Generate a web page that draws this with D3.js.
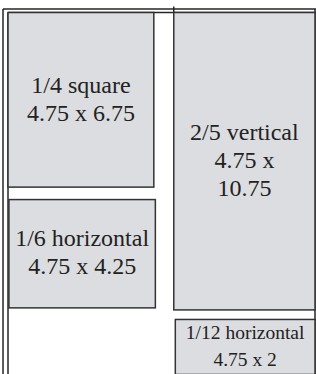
<!DOCTYPE html>
<html>
<head>
<meta charset="utf-8">
<script src="https://cdn.jsdelivr.net/npm/d3@7"></script>
<style>
  html, body { margin: 0; padding: 0; background: #fff; }
  svg { display: block; }
</style>
</head>
<body>
<svg id="layout" width="316" height="374"></svg>
<script>
(function () {
    'use strict';

    // ad sizes on the page
    const adNames = ["1/4 square", "2/5 vertical", "1/6 horizontal", "1/12 horizontal"];
    const adSizes = [["4.75 x 6.75"], ["4.75 x", "10.75"], ["4.75 x 4.25"], ["4.75 x 2"]];
    // extents in page units (columns across, rows down)
    const adLeft = [0, 5.4, 0.03, 5.45];
    const adRight = [4.75, 10, 4.8, 10];
    const adTop = [0, 0, 6.46, 10.6];
    const adBottom = [6.03, 10.27, 10.2, 12.5];
    const adLarge = [true, true, true, false];

    const width = 316;
    const height = 374;

    const x = d3.scaleLinear().domain([0, 10]).range([8, 315]);
    const y = d3.scaleLinear().domain([0, 12]).range([12.5, 360]);

    const ads = adNames.map((name, i) => ({
        name: name,
        lines: [name].concat(adSizes[i]),
        x0: adLeft[i], x1: adRight[i], y0: adTop[i], y1: adBottom[i],
        large: adLarge[i]
    }));

    const svg = d3.select('#layout');

    // page frame
    const frame = svg.append("g")
            .attr("stroke", "#262626")
            .attr("stroke-width", 1.5)
            .attr("fill", "none");
    frame.append("line").attr("x1", 3).attr("x2", 3).attr("y1", 9).attr("y2", height);
    frame.append("line").attr("x1", x(0)).attr("x2", x(0)).attr("y1", y(0)).attr("y2", height);
    frame.append("line").attr("x1", 3).attr("x2", width).attr("y1", 9).attr("y2", 9);
    frame.append("line").attr("x1", x(0)).attr("x2", width).attr("y1", y(0)).attr("y2", y(0));
    frame.append("line").attr("x1", x(10)).attr("x2", x(10)).attr("y1", 9).attr("y2", height);
    frame.append("line").attr("x1", x(5.4)).attr("x2", x(5.4)).attr("y1", 6.5).attr("y2", y(0));

    const boxes = svg.append("g")
            .selectAll("g")
            .data(ads)
            .join("g");

    boxes.append("rect")
            .attr("x", d => x(d.x0))
            .attr("y", d => y(d.y0))
            .attr("width", d => x(d.x1) - x(d.x0))
            .attr("height", d => y(d.y1) - y(d.y0))
            .attr("fill", "#dcdde0")
            .attr("stroke", "#333")
            .attr("stroke-width", 1.5);

    boxes.append("text")
            .attr("text-anchor", "middle")
            .attr("fill", "#222")
            .style("font-family", "'Liberation Serif', 'Times New Roman', serif")
            .style("font-size", d => d.large ? "24px" : "19.5px")
            .each(function (d) {
                const fs = d.large ? 24 : 19.5;
                const lh = d.large ? 28 : 27;
                const cx = (x(d.x0) + x(d.x1)) / 2;
                const cy = (y(d.y0) + y(d.y1)) / 2;
                const first = cy - (d.lines.length - 1) / 2 * lh + 0.28 * fs;
                d3.select(this).selectAll("tspan")
                    .data(d.lines)
                    .join("tspan")
                    .attr("x", cx)
                    .attr("y", (t, j) => first + j * lh)
                    .text(t => t);
            });
}());
</script>
</body>
</html>
